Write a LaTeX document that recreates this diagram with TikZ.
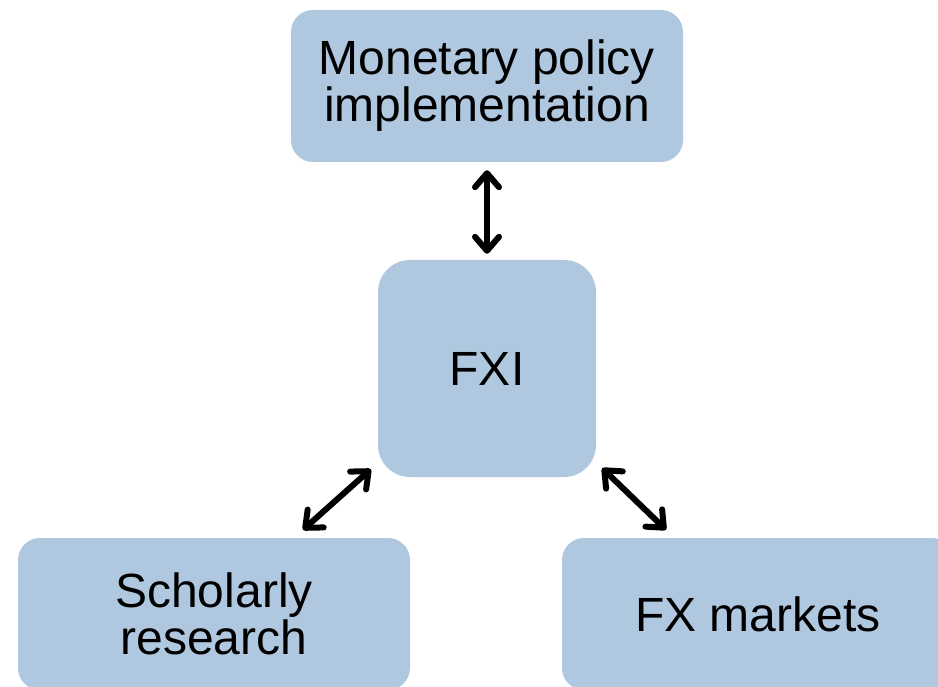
\documentclass[tikz,border=0pt]{standalone}
\usepackage{fontspec}
\setmainfont{Liberation Sans}
\usetikzlibrary{arrows.meta}
\definecolor{boxblue}{HTML}{B0C8DF}
\tikzset{
  box/.style={fill=boxblue, draw=none, align=center, inner sep=0pt,
    font=\fontsize{48}{47}\selectfont, text=black},
  arr/.style={line width=6pt, line cap=round, line join=round,
    {Straight Barb[length=14pt,width=24pt,line cap=round,line join=round]}-{Straight Barb[length=14pt,width=24pt,line cap=round,line join=round]}}
}
\begin{document}
\begin{tikzpicture}[x=1pt,y=-1pt]
\useasboundingbox (0,0) rectangle (938,687);
\node[box, minimum width=392pt, minimum height=152pt, rounded corners=22pt] (mp) at (487,86) {Monetary policy\\implementation};
\node[box, minimum width=218pt, minimum height=217pt, rounded corners=32pt] (fxi) at (487,368.5) {FXI};
\node[box, minimum width=392pt, minimum height=152pt, rounded corners=22pt] (sr) at (214,614) {Scholarly\\research};
\node[box, minimum width=392pt, minimum height=152pt, rounded corners=22pt] (fx) at (758,614) {FX markets};
\draw[arr] ([shift={(0,8)}]mp.south) -- ([shift={(0,-6)}]fxi.north);
\draw[arr] ([shift={(-7,-8)}]fxi.south west) -- ([shift={(89,-8)}]sr.north);
\draw[arr] ([shift={(6,-9)}]fxi.south east) -- ([shift={(-92,-8)}]fx.north);
\end{tikzpicture}
\end{document}
